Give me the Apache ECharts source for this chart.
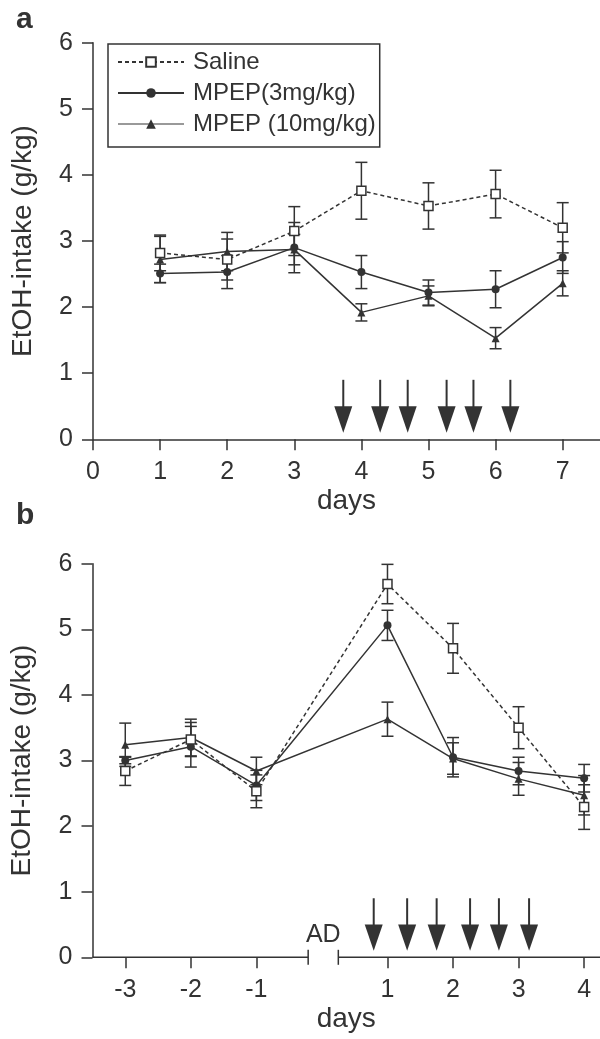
<!DOCTYPE html>
<html><head><meta charset="utf-8">
<script src="https://cdn.jsdelivr.net/npm/echarts@6/dist/echarts.min.js"></script>
<style>html,body{margin:0;padding:0;background:#fff}#c{width:600px;height:1039px}</style>
</head><body><div id="c"></div>
<script>
// ---------- data ----------
const daysA = [1, 2, 3, 4, 5, 6, 7];
const salineA = [2.82, 2.72, 3.15, 3.76, 3.53, 3.71, 3.20];
const salineAErr = [0.27, 0.31, 0.37, 0.43, 0.35, 0.36, 0.38];
const mpep3A = [2.51, 2.53, 2.90, 2.53, 2.22, 2.27, 2.75];
const mpep3AErr = [0.14, 0.25, 0.38, 0.25, 0.19, 0.28, 0.24];
const mpep10A = [2.72, 2.84, 2.87, 1.92, 2.17, 1.53, 2.36];
const mpep10AErr = [0.35, 0.29, 0.23, 0.13, 0.15, 0.16, 0.19];

const daysB = [-3, -2, -1, 1, 2, 3, 4];
const salineB = [2.84, 3.32, 2.53, 5.69, 4.71, 3.50, 2.29];
const salineBErr = [0.22, 0.26, 0.25, 0.30, 0.38, 0.32, 0.34];
const mpep3B = [3.00, 3.21, 2.62, 5.06, 3.05, 2.84, 2.73];
const mpep3BErr = [0.05, 0.31, 0.23, 0.23, 0.30, 0.21, 0.21];
const mpep10B = [3.24, 3.35, 2.84, 3.63, 3.03, 2.72, 2.47];
const mpep10BErr = [0.33, 0.28, 0.21, 0.26, 0.24, 0.25, 0.30];

const injectionsA = [3.73, 4.28, 4.69, 5.27, 5.67, 6.22];
const injectionsB = [0.79, 1.30, 1.75, 2.26, 2.70, 3.16];
const arrowTip = 0.1, arrowHeadBase = 0.5, arrowTop = 0.9;

const xTicksA = [0, 1, 2, 3, 4, 5, 6, 7];
const xTicksB = [-3, -2, -1, 1, 2, 3, 4];
const yTicks = [0, 1, 2, 3, 4, 5, 6];
const axisBreakB = [-0.21, 0.25];
const breakLabel = 'AD';
const names = ['Saline', 'MPEP(3mg/kg)', 'MPEP (10mg/kg)'];

// ---------- styles ----------
const INK = '#333';
const FONT = 'Liberation Sans';

function pts(xs, ys) { return xs.map((x, i) => [x, ys[i]]); }
function errData(xs, ys, es) { return xs.map((x, i) => [x, ys[i] - es[i], ys[i] + es[i]]); }

function errRender(params, api) {
  const x = api.value(0), lo = api.value(1), hi = api.value(2);
  const t = api.coord([x, hi]), b = api.coord([x, lo]);
  const w = 6, st = { stroke: INK, lineWidth: 1.5 };
  return { type: 'group', children: [
    { type: 'line', shape: { x1: t[0], y1: t[1], x2: b[0], y2: b[1] }, style: st },
    { type: 'line', shape: { x1: t[0] - w, y1: t[1], x2: t[0] + w, y2: t[1] }, style: st },
    { type: 'line', shape: { x1: b[0] - w, y1: b[1], x2: b[0] + w, y2: b[1] }, style: st }
  ] };
}
function arrowRender(params, api) {
  const x = api.value(0);
  const tip = api.coord([x, arrowTip]), base = api.coord([x, arrowHeadBase]), top = api.coord([x, arrowTop]);
  const hw = 9;
  return { type: 'group', children: [
    { type: 'line', shape: { x1: top[0], y1: top[1], x2: base[0], y2: base[1] + 1 }, style: { stroke: INK, lineWidth: 2 } },
    { type: 'polygon', shape: { points: [[base[0] - hw, base[1]], [base[0] + hw, base[1]], [tip[0], tip[1]]] }, style: { fill: INK } }
  ] };
}
function axisSegRender(params, api) {
  const x0 = api.value(0), x1 = api.value(1);
  const p0 = api.coord([x0, 0]), p1 = api.coord([x1, 0]);
  const st = { stroke: INK, lineWidth: 1.5 };
  const children = [{ type: 'line', shape: { x1: p0[0], y1: p0[1], x2: p1[0], y2: p1[1] }, style: st }];
  if (params.dataIndex === 0) children.push({ type: 'line', shape: { x1: p1[0], y1: p1[1] - 7.5, x2: p1[0], y2: p1[1] + 7.5 }, style: st });
  if (params.dataIndex === 1) {
    children.push({ type: 'line', shape: { x1: p0[0], y1: p0[1] - 7.5, x2: p0[0], y2: p0[1] + 7.5 }, style: st });
    const mid = api.coord([(axisBreakB[0] + axisBreakB[1]) / 2, 0]);
    children.push({ type: 'text', x: mid[0], y: mid[1] - 22, style: { text: breakLabel, font: '25px "' + FONT + '"', fill: INK, align: 'center', verticalAlign: 'middle' } });
  }
  return { type: 'group', children };
}

function lineSeries(name, data, gi, kind) {
  const base = {
    name, type: 'line', data, xAxisIndex: gi, yAxisIndex: gi,
    lineStyle: { color: INK, width: 1.5 }, emphasis: { disabled: true }, animation: false, z: 3
  };
  if (kind === 0) {
    base.symbol = 'rect'; base.symbolSize = 9; base.z = 5;
    base.itemStyle = { color: '#fff', borderColor: INK, borderWidth: 1.5 };
    base.lineStyle = { color: INK, width: 1.5, type: [4, 3] };
  } else if (kind === 1) {
    base.symbol = 'circle'; base.symbolSize = 8; base.itemStyle = { color: INK, borderWidth: 0 };
  } else {
    base.symbol = 'triangle'; base.symbolSize = 8; base.itemStyle = { color: INK, borderWidth: 0 };
  }
  return base;
}
function errSeries(data, gi) {
  return { type: 'custom', renderItem: errRender, data, xAxisIndex: gi, yAxisIndex: gi,
    encode: { x: 0, y: [1, 2] }, z: 2, silent: true, animation: false };
}

const tickLabel = { fontFamily: FONT, fontSize: 25, color: INK, margin: 20 };
const nameStyle = { fontFamily: FONT, fontSize: 28, color: INK };
function yAxis(gi) {
  return { type: 'value', gridIndex: gi, min: 0, max: 6, interval: 1,
    axisLine: { show: true, onZero: false, lineStyle: { color: INK, width: 1.5 } },
    axisTick: { show: true, length: 11, lineStyle: { color: INK, width: 1.5 } },
    axisLabel: tickLabel, splitLine: { show: false },
    name: 'EtOH-intake (g/kg)', nameLocation: 'middle', nameGap: 56, nameTextStyle: nameStyle };
}

const option = {
  backgroundColor: '#fff',
  animation: false,
  title: [
    { text: 'a', left: 16, top: 5, padding: 0, textStyle: { fontFamily: FONT, fontSize: 30, fontWeight: 'bold', color: INK } },
    { text: 'b', left: 16, top: 501, padding: 0, textStyle: { fontFamily: FONT, fontSize: 30, fontWeight: 'bold', color: INK } }
  ],
  legend: {
    orient: 'vertical', left: 108, top: 44, padding: [5, 4, 10, 9],
    borderColor: INK, borderWidth: 1.5, backgroundColor: '#fff',
    itemWidth: 66, itemHeight: 12, itemGap: 5,
    textStyle: { fontFamily: FONT, fontSize: 24, color: INK, lineHeight: 26, padding: [0, 0, 0, 4] },
    selectedMode: false,
    data: [
      { name: names[0] },
      { name: names[1] },
      { name: names[2], lineStyle: { color: '#999' } }
    ]
  },
  grid: [
    { left: 93, top: 42.7, width: 507, height: 396.6, outerBoundsMode: 'none' },
    { left: 92.5, top: 563.7, width: 507.5, height: 393.6, outerBoundsMode: 'none' }
  ],
  xAxis: [
    { type: 'value', gridIndex: 0, min: 0, max: 7.556,
      axisLine: { show: true, onZero: false, lineStyle: { color: INK, width: 1.5 } },
      axisTick: { show: true, length: 11, customValues: xTicksA, lineStyle: { color: INK, width: 1.5 } },
      axisLabel: Object.assign({ customValues: xTicksA }, tickLabel),
      splitLine: { show: false },
      name: 'days', nameLocation: 'middle', nameGap: 48, nameTextStyle: nameStyle },
    { type: 'value', gridIndex: 1, min: -3.5, max: 4.242,
      axisLine: { show: false, onZero: false },
      axisTick: { show: true, length: 11, customValues: xTicksB, lineStyle: { color: INK, width: 1.5 } },
      axisLabel: Object.assign({ customValues: xTicksB }, tickLabel),
      splitLine: { show: false },
      name: 'days', nameLocation: 'middle', nameGap: 48, nameTextStyle: nameStyle }
  ],
  yAxis: [yAxis(0), yAxis(1)],
  series: [
    errSeries(errData(daysA, salineA, salineAErr), 0),
    errSeries(errData(daysA, mpep3A, mpep3AErr), 0),
    errSeries(errData(daysA, mpep10A, mpep10AErr), 0),
    lineSeries(names[0], pts(daysA, salineA), 0, 0),
    lineSeries(names[1], pts(daysA, mpep3A), 0, 1),
    lineSeries(names[2], pts(daysA, mpep10A), 0, 2),
    errSeries(errData(daysB, salineB, salineBErr), 1),
    errSeries(errData(daysB, mpep3B, mpep3BErr), 1),
    errSeries(errData(daysB, mpep10B, mpep10BErr), 1),
    lineSeries(names[0], pts(daysB, salineB), 1, 0),
    lineSeries(names[1], pts(daysB, mpep3B), 1, 1),
    lineSeries(names[2], pts(daysB, mpep10B), 1, 2),
    { type: 'custom', renderItem: arrowRender, data: injectionsA.map(x => [x]), xAxisIndex: 0, yAxisIndex: 0, encode: { x: 0 }, silent: true, z: 2 },
    { type: 'custom', renderItem: arrowRender, data: injectionsB.map(x => [x]), xAxisIndex: 1, yAxisIndex: 1, encode: { x: 0 }, silent: true, z: 2 },
    { type: 'custom', renderItem: axisSegRender, data: [[-3.5, axisBreakB[0]], [axisBreakB[1], 4.242]], xAxisIndex: 1, yAxisIndex: 1, encode: { x: [0, 1] }, silent: true, z: 1 }
  ]
};
const chart = echarts.init(document.getElementById('c'), null, { renderer: 'canvas' });
chart.setOption(option);
</script></body></html>
